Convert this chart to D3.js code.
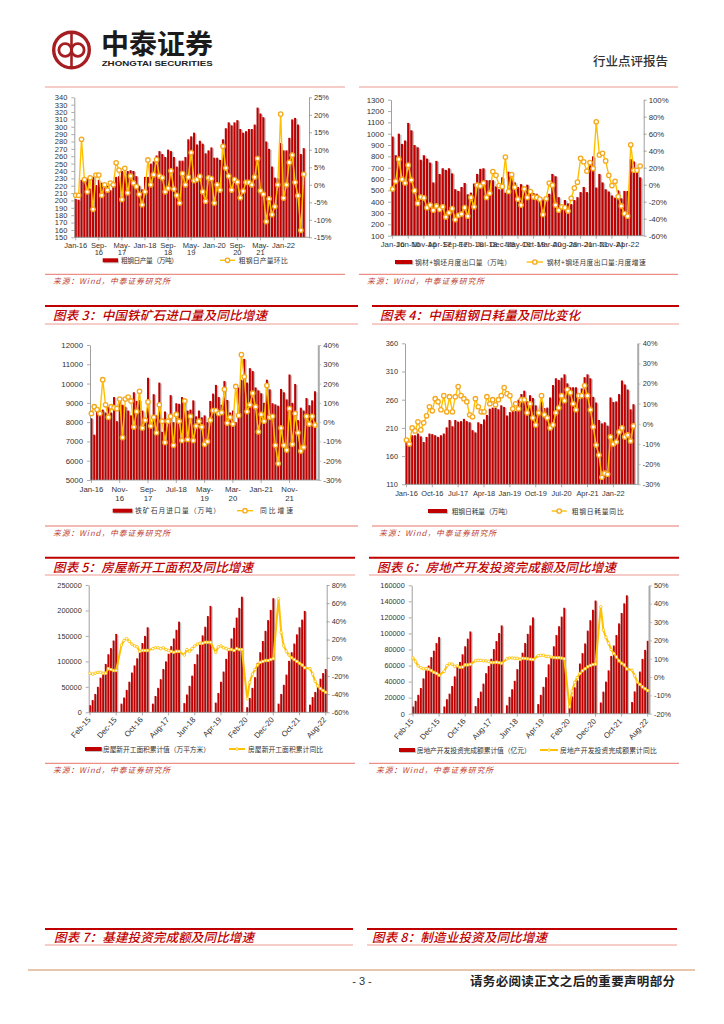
<!DOCTYPE html>
<html lang="zh"><head><meta charset="utf-8">
<script src="https://cdn.jsdelivr.net/npm/d3@7/dist/d3.min.js"></script>
<style>html,body{margin:0;padding:0;background:#fff}svg{display:block}</style>
</head><body><svg id="page" width="724" height="1024"></svg>
<script>
const steelOutput=[202,201,228,226,230,216,232,221,228,224,222,220,214,225,232,233,240,238,240,241,240,233,220,215,232,232,250,253,261,267,263,259,269,267,259,246,254,254,259,283,287,292,276,281,277,264,268,272,258,258,255,283,298,306,302,306,309,297,292,294,297,297,303,326,318,313,280,270,246,231,230,278,268,268,285,310,312,303,263,271];
const steelOutputMoM=[-3,-3,13,1.5,-2,2,-7,2.8,2.8,-3,0,-1.5,0.5,0,6.3,4.2,-4.2,4.7,-2.3,2.5,0.5,-0.5,-2.7,-5.7,-2,7.1,0,2.9,7.2,2.5,2,-2,-1,4,-1.2,-3,-5.2,3.2,0,2.2,9.2,1.2,1.5,2.4,-2,-4.7,2,1.8,-5.2,0,-1.5,11,4.8,2.5,-1.5,1.5,0.8,-3.7,-1.8,0.7,0.7,0,2.2,7.5,-1.7,-2.7,-10.5,-4,-8.5,-6.2,0,20.2,-3.8,0,6.4,8.5,0.7,-3.1,-13,3];
const exportVolume=[975,810,1000,910,940,1095,1030,900,880,770,810,780,745,570,760,645,695,680,695,650,510,495,530,565,465,480,560,645,690,695,590,590,590,535,510,615,480,665,635,570,530,555,510,550,500,475,470,440,420,440,470,645,625,440,370,415,385,380,415,440,485,530,485,740,800,525,645,570,510,490,455,435,500,430,495,495,775,755,670,615];
const exportYoY=[-5,4,30,6.5,2,23,5.5,-7,-22,-14.5,-15.5,-27,-24,-30,-25,-29,-26,-38,-33,-28,-41,-36,-34.5,-27,-37,-15,-26,-0.5,-1.5,2,-15,-10,15.5,11,-1,-2,32.5,-8,12,-3,-17,-24,-5,-15,-8,-14.5,-15,-17,-35,-16.5,2,-0.5,-24,-30,-26,-27,-31,-16,-4,3,31,27,16,26,19,74,35,37,28,11,-1,4,-14,-25,-34,-37,47,17,17,22];
const oreImports=[8200,7350,8700,8500,8650,8500,8800,8500,9300,8050,9200,8900,8800,8600,8350,9550,9100,9150,8600,8150,10300,8000,9450,8350,10050,7500,8550,8000,9400,8000,8980,8950,9300,9200,8600,8650,9130,8300,8600,8250,8350,8000,9100,9480,9930,9300,8900,10130,9150,8500,8600,8000,9800,10200,11280,10050,10800,10650,9800,9650,9500,9000,10200,9700,8980,8920,8850,9720,9550,9180,10470,9000,9980,8100,8750,8600,9250,8880,9130,9600];
const oreYoY=[4.5,8,6.5,4.5,22,9,2.5,8,7.5,7,12,-8,12,13,11,-2.5,5.5,16,-3,1,10.5,-2,2.5,-5.5,9,0.5,-10.5,0.5,3,-12,4,0.5,-9.5,11,-9,3,-9.5,-2,0.5,-2.5,-11.5,-10,1,6,6,4.5,5,17,-0.5,2.5,-1,18.5,3.5,35,23.5,5.5,9,15,8,-5,4,0.5,19,2.5,3,-12,-21.5,-3,-12,-14.5,7,-11.5,4.5,-5.5,-15,-13,3,-1,3,-1.5];
const steelConsumption=[187,180,197,197,200,195,185,194,200,199,197,194,197,200,211,224,213,224,221,222,226,222,220,206,202,220,217,225,233,244,246,246,243,250,247,232,238,240,240,260,270,276,257,268,263,250,240,257,245,246,264,286,298,295,299,305,289,282,282,282,262,280,300,305,298,265,255,224,218,220,214,264,256,257,270,294,287,278,243,252];
const steelConsumptionYoY=[-8,-10,-2,-3.5,1,-3,0.5,4,8.5,6.5,12.5,11,7,14,6,13.5,6,13.5,18.5,14,12.5,11,4.5,3.5,12.5,8.5,6,6,13.5,10,12,9.5,12,14,18,15,14,7.5,10,7.5,12,12,5.5,10,3,-0.5,5.5,14,4.5,3,-2,-0.5,5.5,8,14,11.5,17,15.5,10,7,14,14,19,14,7,-1.5,-10.5,-15.5,-26.5,-24.5,-25,-6.5,-10,-9,-4,-2,-6.5,-5.5,-8.5,-1];
const startsCumulative=[
14000,24000,36000,50000,68000,76000,95000,114000,126000,141000,154000,null,
17000,29000,44000,60000,78000,92000,106000,122000,136000,150000,167000,null,
17000,32000,48000,65000,85000,100000,115000,130000,145000,162000,178000,null,
18000,35000,52000,72000,95000,114000,133000,151000,168000,189000,209000,null,
19000,38000,60000,80000,105000,125000,145000,166000,186000,205000,227000,null,
10000,28000,48000,69000,97000,118000,140000,160000,181000,201000,224000,null,
17000,36000,54000,74000,101000,118000,135000,153000,167000,182000,199000,null,
15000,30000,40000,52000,66000,77000,85000];
const startsYoY=[
-17,-18,-17,-16,-16,-17,-17,-12,-13,-14,-14,null,
14,19,21,18,15,13,12,7,8,8,8,null,
10,11,11,10,11,9,8,7,6,7,7,null,
3,9,7,10,13,15,16,16,17,17,17,null,
6,12,13,11,10,9,9,8,10,9,9,null,
-45,-27,-18,-13,-8,-5,-4,-3,-3,-2,-1,null,
65,28,13,7,3,0,-2,-4,-6,-8,-11,null,
-12,-18,-26,-31,-34,-36,-38];
const investCumulative=[
9000,16000,23500,32000,44000,54000,60000,70500,78500,88000,95500,null,
9000,18000,25000,34500,46500,58500,64500,74000,84000,93500,102500,null,
9500,19500,27500,37500,50500,59500,68500,80500,90500,100500,110000,null,
10500,21000,30500,41000,55500,66000,76000,88000,99500,110000,120000,null,
12000,23500,33500,45500,61500,71500,84000,98000,109000,121000,132000,null,
10000,21500,33000,41500,62500,75500,87500,103500,116500,129500,141000,null,
14000,27500,40000,54000,72000,85000,98000,112500,125500,137500,147500,null,
14500,27800,39500,52500,68300,79500,90800];
const investYoY=[
10.4,8.5,6,5.1,4.5,4.6,4.3,3.5,2.6,2,1,null,
3.1,6.2,7.2,7,5.8,6.1,5.3,5.4,6.6,6.6,6.9,null,
8.9,9.1,9.1,8.8,8.8,8.5,7.9,7.9,8.1,7.8,7.5,null,
9.9,10.4,10.4,10.2,10.2,9.7,10.2,10.1,9.9,9.7,9.5,null,
11.6,11.8,11.9,11.2,11.2,10.9,10.6,10.5,10.5,10.3,9.9,null,
-16.3,-7.7,-3,-0.3,1.9,3.4,4.5,5.6,6.3,6.8,7,null,
38.3,25.6,21.6,18.4,15,12.8,10.9,8.8,7.5,6.6,4.4,null,
3.7,0.7,-2.7,-4,-5.4,-6.4,-7.4];
const ticks1=["Jan-16","Sep-16","May-17","Jan-18","Sep-18","May-19","Jan-20","Sep-20","May-21","Jan-22"];
const wrapped1=["Sep-16","May-17","Sep-18","May-19","Sep-20","May-21"];
const ticks2=["Jan-16","Jun-16","Nov-16","Apr-17","Sep-17","Feb-18","Jul-18","Dec-18","May-19","Oct-19","Mar-20","Aug-20","Jan-21","Jun-21","Nov-21","Apr-22"];
const ticks3=["Jan-16","Nov-16","Sep-17","Jul-18","May-19","Mar-20","Jan-21","Nov-21"];
const wrapped3=["Nov-16","Sep-17","May-19","Mar-20","Nov-21"];
const ticks4=["Jan-16","Oct-16","Jul-17","Apr-18","Jan-19","Oct-19","Jul-20","Apr-21","Jan-22"];
const ticks5=["Feb-15","Dec-15","Oct-16","Aug-17","Jun-18","Apr-19","Feb-20","Dec-20","Oct-21","Aug-22"];

const fmt=d3.timeFormat("%b-%y");
const months=(y,m,n)=>d3.range(n).map(i=>fmt(new Date(y,m+i,1)));
const CJK='"Noto Sans CJK SC",sans-serif', LAT='"Liberation Sans",Arial,sans-serif';
const RED='#c00000',SHADOW='#c4c4c4',YEL='#ffc000',ORG='#f6a81c';
const svg=d3.select('#page');

const charts=[
 {bars:steelOutput,line:steelOutputMoM,cats:months(2016,0,80),ticks:ticks1,wrap:wrapped1,wd:1.02,tp:2,
  x:[74.3,305.2],rx:309,y:[237.3,97.3],ld:[150,340],ls:10,rd:[-15,25],rs:5,fs:7.5,
  leg:{y:260.3,b:[102.7,118],bt:[121,57,'粗钢日产量（万吨）'],l:[220,235],lt:[238.7,49,'粗钢日产量环比']}},
 {bars:exportVolume,line:exportYoY,cats:months(2016,0,80),ticks:ticks2,wrap:[],
  x:[391,641.7],rx:643.7,y:[235.7,99.7],ld:[100,1300],ls:100,rd:[-60,100],rs:20,fs:7.8,
  leg:{y:262,b:[395,412.3],bt:[415,96,'钢材+钢坯月度出口量（万吨）'],l:[526.7,543],lt:[546.7,99,'钢材+钢坯月度出口量:月度增速']}},
 {bars:oreImports,line:oreYoY,cats:months(2016,0,80),ticks:ticks3,wrap:wrapped3,
  x:[90,316.4],rx:318.3,y:[480,345],ld:[5000,12000],ls:1000,rd:[-30,40],rs:10,fs:7.8,rw:2,
  leg:{y:510.7,b:[112.7,132.3],bt:[135,85,'铁矿石月进口量（万吨）'],l:[237,253],lt:[260,33,'同比增速']}},
 {bars:steelConsumption,line:steelConsumptionYoY,cats:months(2016,0,80),ticks:ticks4,wrap:[],
  x:[405,634.9],rx:637.7,y:[484.3,343.3],ld:[110,360],ls:50,rd:[-30,40],rs:10,fs:7.4,rw:2,
  leg:{y:511,b:[428,447],bt:[451.7,60,'粗钢日耗量（万吨）'],l:[551.7,566.7],lt:[571.7,52,'粗钢日耗量同比']}},
 {bars:startsCumulative,line:startsYoY,cats:months(2015,1,91),ticks:ticks5,wrap:[],rot:true,small:true,
  x:[88.7,327],rx:326.7,y:[712.3,585],ld:[0,250000],ls:50000,rd:[-60,80],rs:20,fs:7.3,
  leg:{y:749,b:[85,101.7],bt:[103,107,'房屋新开工面积累计值（万平方米）'],l:[229,245],lt:[248,75,'房屋新开工面积累计同比']}},
 {bars:investCumulative,line:investYoY,cats:months(2015,1,91),ticks:ticks5,wrap:[],rot:true,small:true,
  x:[411.7,649],rx:649,y:[713.7,585.3],ld:[0,160000],ls:20000,rd:[-20,50],rs:10,fs:7.3,rw:2,
  leg:{y:750,b:[399,415],bt:[416.7,114,'房地产开发投资完成额累计值（亿元）'],l:[540,558],lt:[560,96.7,'房地产开发投资完成额累计同比']}}
];

function styleAxis(g,fs,w,col){
  g.selectAll('text').attr('font-family',LAT).attr('font-size',fs).attr('fill','#333');
  g.selectAll('line').attr('stroke',col||'#888').attr('stroke-width',.7);
  g.select('.domain').attr('stroke',col||'#888').attr('stroke-width',w||.8);
}
charts.forEach(c=>{
  const x=d3.scaleBand().domain(c.cats).range(c.x).paddingInner(.28).paddingOuter(.14);
  const yL=d3.scaleLinear().domain(c.ld).range(c.y);
  const yR=d3.scaleLinear().domain(c.rd).range(c.y);
  const g=svg.append('g');
  const data=c.cats.map((k,i)=>({k,b:c.bars[i],l:c.line[i]}));
  const bd=data.filter(d=>d.b!=null), ld=data.filter(d=>d.l!=null);
  g.append('g').selectAll('rect').data(bd).join('rect')
    .attr('x',d=>x(d.k)+x.bandwidth()*.7).attr('width',x.bandwidth()).attr('y',d=>yL(d.b)+1)
    .attr('height',d=>Math.max(0,yL.range()[0]-yL(d.b)-1)).attr('fill',SHADOW);
  g.append('g').selectAll('rect').data(bd).join('rect')
    .attr('x',d=>x(d.k)).attr('width',x.bandwidth()).attr('y',d=>yL(d.b))
    .attr('height',d=>yL.range()[0]-yL(d.b)).attr('fill',RED);
  // axes
  const ax=d3.axisLeft(yL).tickValues(d3.range(c.ld[0],c.ld[1]+1,c.ls)).tickSize(3).tickPadding(4).tickSizeOuter(0).tickFormat(d3.format('d'));
  const gl=g.append('g').attr('transform',`translate(${c.x[0]},0)`).call(ax);styleAxis(gl,c.fs);
  const ar=d3.axisRight(yR).tickValues(d3.range(c.rd[0],c.rd[1]+1,c.rs)).tickSize(3).tickPadding(2).tickSizeOuter(0).tickFormat(d=>d+'%');
  const gr=g.append('g').attr('transform',`translate(${c.rx},0)`).call(ar);styleAxis(gr,c.fs,c.rw,c.rw?'#aaa':'#888');
  const ab=d3.axisBottom(x).tickValues(c.ticks).tickSize(3).tickPadding(c.tp||3).tickSizeOuter(0);
  const gb=g.append('g').attr('transform',`translate(0,${c.y[0]})`).call(ab);styleAxis(gb,c.fs);
  gb.select('.domain').attr('d',`M${c.x[0]},0H${c.rx}`);
  if(c.rot){
    gb.selectAll('text').attr('text-anchor','end').attr('x',0).attr('y',0).attr('dx',0).attr('dy','0.35em')
      .attr('font-size',7.8).attr('transform','translate(-1,6) rotate(-48)');
  }
  gb.selectAll('text').filter(d=>c.wrap.includes(d)).each(function(d){
    const t=d3.select(this),p=d.split('-');t.text(null);
    t.append('tspan').attr('x',0).text(p[0]+'-');
    t.append('tspan').attr('x',0).attr('dy',(c.wd||1.2)+'em').text(p[1]);
  });
  // line + markers
  const line=d3.line().x(d=>x(d.k)+x.bandwidth()/2).y(d=>yR(d.l));
  g.append('path').datum(ld).attr('d',line).attr('fill','none').attr('stroke',YEL).attr('stroke-width',c.small?2:1.4);
  g.append('g').selectAll('circle').data(ld).join('circle')
    .attr('cx',d=>x(d.k)+x.bandwidth()/2).attr('cy',d=>yR(d.l))
    .attr('r',c.small?1.3:2.2).attr('fill','#fff').attr('stroke',c.small?YEL:ORG).attr('stroke-width',c.small?.8:1.3);
  // legend
  const L=c.leg,lg=g.append('g');
  lg.append('rect').attr('x',L.b[0]+1).attr('y',L.y-1).attr('width',L.b[1]-L.b[0]).attr('height',4).attr('fill',SHADOW);
  lg.append('rect').attr('x',L.b[0]).attr('y',L.y-2).attr('width',L.b[1]-L.b[0]).attr('height',4).attr('fill',RED);
  lg.append('line').attr('x1',L.l[0]).attr('x2',L.l[1]).attr('y1',L.y).attr('y2',L.y).attr('stroke',YEL).attr('stroke-width',c.small?2:1.4);
  lg.append('circle').attr('cx',(L.l[0]+L.l[1])/2).attr('cy',L.y).attr('r',c.small?1.3:2.2).attr('fill','#fff').attr('stroke',c.small?YEL:ORG).attr('stroke-width',c.small?.8:1.3);
  [L.bt,L.lt].forEach(t=>lg.append('text').attr('x',t[0]).attr('y',L.y+2.5).attr('font-family',CJK).attr('font-size',6.8).attr('fill','#333')
    .attr('textLength',t[1]).attr('lengthAdjust','spacing').text(t[2]));
});

// frame: rules, titles, sources
const hline=(x1,x2,y,col,w)=>svg.append('line').attr('x1',x1).attr('x2',x2).attr('y1',y).attr('y2',y).attr('stroke',col).attr('stroke-width',w);
const PINK='#ee9a94';
const titles=[
 {x:[45,358],tx:[53,214],top:306,mid:324,t:'图表 3：中国铁矿石进口量及同比增速'},
 {x:[372,679],tx:[380,200],top:306,mid:324,t:'图表 4：中国粗钢日耗量及同比变化'},
 {x:[45,355],tx:[53,200],top:557.7,mid:575,t:'图表 5：房屋新开工面积及同比增速'},
 {x:[369,679],tx:[377,239],top:557.7,mid:575,t:'图表 6：房地产开发投资完成额及同比增速'},
 {x:[45,353],tx:[54,200],top:929,mid:945,t:'图表 7：基建投资完成额及同比增速'},
 {x:[367,677],tx:[372,175],top:929,mid:945,t:'图表 8：制造业投资及同比增速'}];
titles.forEach(d=>{
  hline(d.x[0],d.x[1],d.top,RED,2);hline(d.x[0],d.x[1],d.mid,PINK,1);
  svg.append('text').attr('x',d.tx[0]).attr('y',(d.top+d.mid)/2+5.2).attr('font-family',CJK).attr('font-size',12.5).attr('font-weight',500)
    .attr('font-style','italic').attr('fill',RED).attr('textLength',d.tx[1]).attr('lengthAdjust','spacing').text(d.t);
});
hline(45,345,87,PINK,1);hline(359,678,87,PINK,1);
const sources=[{x:[45,345],tx:53,l:274.3},{x:[359,678],tx:367,l:274.3},{x:[45,358],tx:53,l:526},{x:[372,679],tx:379,l:526},{x:[45,355],tx:53,l:763.3},{x:[369,679],tx:376,l:763.3}];
sources.forEach(s=>{
  hline(s.x[0],s.x[1],s.l,'#e8746c',1);
  svg.append('text').attr('x',s.tx).attr('y',s.l+9.5).attr('font-family',CJK).attr('font-size',7.8).attr('font-style','italic').attr('fill','#c0392b')
    .attr('textLength',117).attr('lengthAdjust','spacing').text('来源：Wind，中泰证券研究所');
});

// header
const logo=svg.append('g').attr('transform','translate(71.5,50)').attr('fill','none').attr('stroke','#a61e22');
logo.append('circle').attr('r',17.8).attr('stroke-width',3.4);
logo.append('circle').attr('cx',-6.3).attr('r',6.3).attr('stroke-width',2.8);
logo.append('circle').attr('cx',6.3).attr('r',6.3).attr('stroke-width',2.8);
logo.append('line').attr('y1',-17).attr('y2',17).attr('stroke-width',2.6);
svg.append('text').attr('x',101).attr('y',54).attr('font-family',CJK).attr('font-size',27).attr('font-weight',700).attr('fill','#1a1a1a')
  .attr('textLength',112).attr('lengthAdjust','spacingAndGlyphs').text('中泰证券');
svg.append('text').attr('x',101.7).attr('y',66).attr('font-family',LAT).attr('font-size',7.4).attr('font-weight',700).attr('fill','#222')
  .attr('textLength',111).attr('lengthAdjust','spacingAndGlyphs').text('ZHONGTAI SECURITIES');
svg.append('text').attr('x',593).attr('y',65.5).attr('font-family',CJK).attr('font-size',12.5).attr('font-weight',500).attr('fill','#333')
  .attr('textLength',75).attr('lengthAdjust','spacing').text('行业点评报告');

// footer
hline(28,695,970,'#e8c6ac',2);
svg.append('text').attr('x',362).attr('y',985).attr('text-anchor','middle').attr('font-family',LAT).attr('font-size',11).attr('fill','#333').text('- 3 -');
svg.append('text').attr('x',470).attr('y',986).attr('font-family',CJK).attr('font-size',12.5).attr('font-weight',700).attr('fill','#222')
  .attr('textLength',205).attr('lengthAdjust','spacing').text('请务必阅读正文之后的重要声明部分');
</script></body></html>
